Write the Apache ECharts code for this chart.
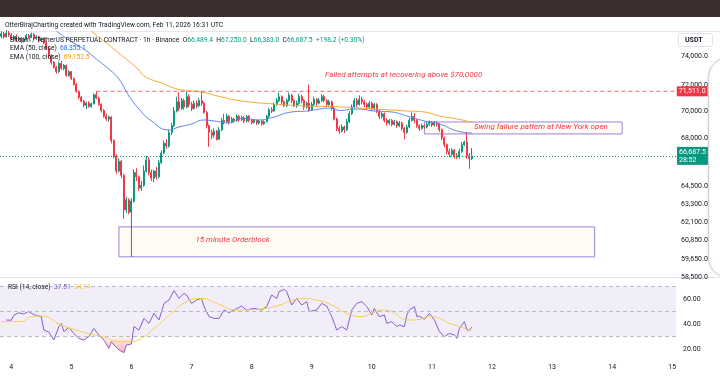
<!DOCTYPE html>
<html>
<head>
<meta charset="utf-8">
<script src="https://cdn.jsdelivr.net/npm/echarts@6/dist/echarts.min.js"></script>
<style>
html,body{margin:0;padding:0;background:#fff;}
#chart{width:720px;height:377px;}
</style>
</head>
<body>
<div id="chart"></div>
<script>
// BTCUSDT.P 1h candles, first one Feb 3 20:00 UTC. rows: [open, close, low, high]
var ohlc = [
  [75900,76100,75750,76300],[76100,75850,75700,76250],[75850,76150,75800,76400],[76150,76000,75850,76350],
  // Feb 4
  [76000,75700,75600,76150],[75700,75900,75550,76000],[75900,75600,75450,76050],[75600,75750,75500,75900],
  [75750,75500,75350,75850],[75500,75650,75400,75800],[75650,75950,75600,76100],[75950,75800,75700,76100],
  [75800,76050,75750,76200],[76050,75700,75600,76150],[75700,75850,75600,76000],[75850,75550,75400,75950],
  [75550,75700,75450,75800],[75700,75350,75250,75800],[75350,74900,74800,75450],[74900,74300,74150,75000],
  [74300,73800,73600,74450],[73800,73400,73300,73900],[73400,73050,72900,73500],[73050,73700,72950,73850],
  [73700,73300,73200,73900],[73300,73550,73150,73650],[73550,72750,72650,73600],[72750,73050,72650,73150],
  // Feb 5
  [73050,72500,72400,73100],[72500,72050,71950,72600],[72050,71500,71400,72150],[71500,71050,70900,71600],
  [71050,70750,70650,71150],[70750,70450,70300,70850],[70450,70600,70150,70700],[70600,70350,70250,70750],
  [70350,70550,70250,70650],[70550,71250,70500,71350],[71250,71000,70900,71511],[71000,70500,70400,71100],
  [70500,70050,69900,70600],[70050,69600,69500,70150],[69600,69400,69250,69800],[69400,69550,69200,69650],
  [69550,67800,67600,69600],[67800,66700,66500,67900],[66700,65600,65400,66800],[65600,66300,65500,66500],
  [66300,65300,65100,66400],[65300,62900,62300,65400],[62900,63600,62700,63800],[63600,62750,62600,63700],
  // Feb 6
  [62750,63500,62650,63700],[63500,65500,63400,65700],[65500,65200,64900,65800],[65200,64400,64200,65300],
  [64400,64600,64200,64900],[64600,65600,64500,66000],[65600,66400,65500,66700],[66400,65500,65300,66600],
  [65500,65100,64900,65700],[65100,65600,64800,65700],[65600,65200,65000,65900],[65200,66200,65100,66400],
  [66200,66900,66100,67100],[66900,67600,66800,67800],[67600,67400,67200,67900],[67400,68400,67300,68600],
  [68400,68900,68200,69100],[68900,70000,68800,70300],[70000,70700,69900,71100],[70700,70200,70000,71450],
  [70200,70800,70100,71000],[70800,70300,70100,70950],[70300,71100,70200,71520],[71100,70500,70300,71300],
  // Feb 7
  [70500,70200,70000,70700],[70200,70600,70100,70800],[70600,70400,70200,70800],[70400,70800,70300,71000],
  [70800,70600,70400,71500],[70600,69900,69800,70700],[69900,68900,68700,70000],[68900,68400,67350,69000],
  [68400,68200,67900,68600],[68200,68500,68000,68700],[68500,67900,67800,68600],[67900,68600,67850,68800],
  [68600,69300,68500,69500],[69300,69200,69000,69800],[69200,69600,69100,69800],[69600,69200,69000,69700],
  [69200,69400,69100,69550],[69400,69300,69150,69500],[69300,69600,69200,69750],[69600,69350,69200,69700],
  [69350,69500,69250,69650],[69500,69250,69100,69600],[69250,69600,69150,69700],[69600,69300,69150,69700],
  // Feb 8
  [69300,69150,69000,69400],[69150,69300,69050,69400],[69300,69100,68950,69350],[69100,69250,69000,69350],
  [69250,69050,68900,69300],[69050,69200,68950,69300],[69200,69600,69150,69700],[69600,70100,69500,70250],
  [70100,70000,69850,70300],[70000,70500,69950,70650],[70500,70800,70400,71000],[70800,71100,70700,71400],
  [71100,70700,70500,71200],[70700,70400,70300,70800],[70400,70800,70300,70950],[70800,71200,70700,71400],
  [71200,70800,70600,71300],[70800,70400,70300,70900],[70400,70600,70250,70800],[70600,71100,70500,71300],
  [71100,70800,70600,71250],[70800,70300,70100,70900],[70300,70600,70200,70700],[70600,70100,69950,72050],
  // Feb 9
  [70100,70500,70000,70700],[70500,70900,70400,71100],[70900,70600,70400,71000],[70600,70800,70500,71000],
  [70800,71100,70700,71300],[71100,70800,70650,71250],[70800,70500,70300,70900],[70500,70700,70400,70850],
  [70700,70200,70050,70800],[70200,69400,69300,70300],[69400,68700,68500,69500],[68700,68500,68300,68900],
  [68500,68800,68400,69000],[68800,68600,68350,68900],[68600,69200,68500,69400],[69200,69800,69100,70000],
  [69800,70300,69700,70500],[70300,70800,70200,71000],[70800,70500,70300,71000],[70500,70900,70400,71200],
  [70900,70700,70500,71100],[70700,70500,70300,70850],[70500,70300,70100,70650],[70300,70600,70150,70750],
  // Feb 10
  [70600,70200,70000,70700],[70200,70500,70050,70650],[70500,70000,69850,70600],[70000,69600,69400,70100],
  [69600,69800,69450,69950],[69800,69300,69150,69900],[69300,69100,68900,69450],[69100,69300,68950,69400],
  [69300,69000,68850,69400],[69000,69200,68900,69350],[69200,68900,68750,69300],[68900,69100,68800,69250],
  [69100,68700,68550,69200],[68700,68400,67900,68800],[68400,68800,68300,68950],[68800,69300,68700,69500],
  [69300,69600,69200,69900],[69600,69300,69100,69850],[69300,68900,68750,69400],[68900,68700,68500,69000],
  [68700,68900,68600,69050],[68900,68800,68650,69000],[68800,69000,68700,69150],[69000,69150,68900,69300],
  // Feb 11
  [69150,68950,68800,69250],[68950,69100,68850,69250],[69100,69000,68850,69200],[69000,68600,68450,69100],
  [68600,68000,67850,68700],[68000,67500,67300,68100],[67500,67000,66800,67600],[67000,66800,66600,67200],
  [66800,67100,66650,67250],[67100,66700,66500,67200],[66700,66600,66450,66900],[66600,67000,66500,67200],
  [67000,67500,66900,67700],[67500,67700,67400,67800],[67700,66700,66500,68400],[66700,66489.4,65760,66900],
  [66489.4,66687.5,66383,67250]
];

// indicator lines, [hour index, value]
var ema50 = [[0,79200],[22,76326],[27,75587],[33,74856],[38,74051],[43,73256],[47,72468],[51,71150],
  [55,70157],[60,69253],[67,68583],[71,68806],[76,69030],[81,69328],[85,69253],[91,69104],[96,69450],
  [103,69330],[108,69500],[116,69930],[122,70006],[132,70233],[135,70050],[142,70157],[149,70006],
  [156,69930],[162,69628],[169,69253],[175,69030],[182,68509],[188,68355]];
var ema100 = [[0,81000],[20,79300],[36,76326],[40,75669],[46,74694],[55,73176],[57,72703],[64,72150],
  [72,71612],[80,71458],[88,71073],[96,70766],[109,70537],[122,70385],[136,70309],[149,70157],
  [162,70006],[169,69930],[175,69628],[182,69404],[188,69152.5]];
var rsi = [[2,43.2],[4,43],[5,47],[7,49],[9,48],[11,50],[13,47.5],[16,45.8],[17,35.2],[19,33.6],[21,27.2],
  [23,37.8],[24,40.5],[25,33.9],[27,37.3],[29,32.5],[31,28.5],[33,27.2],[35,29.9],[37,36.5],[39,31.2],
  [41,27.2],[43,20.5],[44,25.9],[45,23.2],[47,19.2],[49,17.1],[50,23.2],[52,24],[53,37.9],[55,35.2],
  [57,44.5],[59,40.5],[61,48.5],[63,43.2],[65,56.5],[67,59.2],[69,66.7],[71,60.5],[73,64.5],[74,63.2],
  [76,56.5],[78,59.2],[80,60.5],[81,53.9],[83,45.9],[85,44.5],[87,44.5],[89,51.2],[91,49.1],[93,51.2],
  [96,54.4],[98,51.2],[101,52.5],[104,51.2],[106,53.9],[108,63.2],[110,60.5],[111,65.9],[113,67.7],
  [114,65.9],[116,55.2],[118,60.5],[120,55.2],[122,57.9],[123,49.9],[126,51.2],[128,56.5],[130,54.4],
  [132,45.9],[134,35.2],[136,37.9],[138,35.2],[140,51.2],[142,56.5],[144,57.9],[146,53.9],[148,47.2],
  [149,52.5],[151,45.9],[153,47.2],[154,40.5],[156,41.9],[158,37.9],[159,39.2],[161,37.9],[162,47.2],
  [163,51.2],[165,53.9],[166,45.9],[167,46.4],[169,43.7],[171,48.5],[173,43.2],[175,33.9],[177,29.9],
  [179,32.5],[181,31.2],[182,28.5],[183,36.5],[185,41.9],[186,35.2],[187,35.2],[188,37.51]];
var rsiMa = [[0,41.9],[8,42],[12,45.9],[16,46.4],[24,39.2],[32,33.9],[40,29.9],[48,25.9],[52,25.9],
  [56,28.5],[62,37.9],[68,48.5],[74,57.9],[80,60.5],[86,56.5],[94,51.2],[102,51.7],[110,54.4],
  [116,58.7],[120,60.5],[126,59.2],[132,55.2],[138,48.5],[144,45.9],[148,48.5],[152,51.2],[156,49.9],
  [160,44.5],[163,43.2],[167,43.7],[171,45.9],[175,44.5],[179,40.5],[183,37.9],[188,34.74]];

var priceTicks = [74000, 72000, 70000, 68000, 64500, 63300, 62100, 60850, 59650, 58500];
var rsiTicks = [20, 40, 60];
var failedHigh = 71511;
var lastPrice = 66687.5;
// drawn annotations: [hour index, price]
var failedLine = [[38, failedHigh], [269, failedHigh]];
var obLine = [[52, 63460], [52, 59790]];

// hourly slots out to Feb 15
var hours = [];
var t0 = Date.UTC(2026, 1, 3, 20);
for (var i = 0; i < 270; i++) {
  var d = new Date(t0 + i * 3600000);
  hours.push(d.getUTCDate() + ' ' + d.getUTCHours());
}

function fmtPrice(v) {
  return v.toLocaleString('en-US', {minimumFractionDigits: 1, maximumFractionDigits: 1});
}

var FONT = 'Roboto, "Noto Sans", sans-serif';
var UP = '#089981', DOWN = '#f23645';
var TXT = 6.7;

var chart = echarts.init(document.getElementById('chart'));

var rsiFloor = rsi.map(function (p) { return [p[0], Math.min(p[1], 30)]; });
var rsiDip = rsi.map(function (p) { return [p[0], 30 - Math.min(p[1], 30)]; });

var option = {
  animation: false,
  textStyle: {fontFamily: FONT},
  grid: [
    {left: -1, top: 32, width: 677, height: 245},
    {left: -1, top: 277, width: 677, height: 81}
  ],
  xAxis: [
    {type: 'category', gridIndex: 0, data: hours, axisLine: {show: false}, axisTick: {show: false},
      axisLabel: {show: false}, splitLine: {show: false}},
    {type: 'category', gridIndex: 1, data: hours, axisLine: {show: false}, axisTick: {show: false},
      splitLine: {show: false},
      axisLabel: {
        interval: function (idx, val) { return val.split(' ')[1] === '0'; },
        formatter: function (val) { return val.split(' ')[0]; },
        color: '#131722', fontSize: 7, margin: 6
      }}
  ],
  yAxis: [
    {type: 'log', logBase: 10, gridIndex: 0, position: 'right', min: 58500, max: 76250,
      axisLine: {show: false}, axisTick: {show: false}, splitLine: {show: false},
      axisLabel: {customValues: priceTicks, formatter: fmtPrice, color: '#131722', fontSize: 7, margin: 5,
        verticalAlignMinLabel: 'bottom'}},
    {type: 'value', gridIndex: 1, position: 'right', min: 12.8, max: 77.6,
      axisLine: {show: false}, axisTick: {show: false}, splitLine: {show: false},
      axisLabel: {customValues: rsiTicks, formatter: function (v) { return v.toFixed(2); },
        color: '#131722', fontSize: 7, margin: 7}}
  ],
  series: [
    {
      type: 'candlestick', xAxisIndex: 0, yAxisIndex: 0, data: ohlc, barWidth: '60%', silent: true,
      itemStyle: {color: UP, color0: DOWN, borderColor: UP, borderColor0: DOWN, borderWidth: 1},
      markLine: {
        silent: true, symbol: ['none', 'none'],
        data: [
          {yAxis: lastPrice, lineStyle: {color: UP, type: [1, 2], width: 1},
            label: {show: true, position: 'end', distance: 1, formatter: fmtPrice(lastPrice) + '\n28:52',
              backgroundColor: UP, color: '#fff', fontSize: 7, lineHeight: 8, padding: [1, 2, 1, 2]}}
        ]
      },
      markArea: {
        silent: true,
        data: [
          [{coord: [47, 61760], itemStyle: {color: '#fefbf4', borderColor: '#9c83d8', borderWidth: 1},
            label: {show: true, formatter: '15 minute Orderblock', position: [77, 14], align: 'left',
              verticalAlign: 'middle', color: DOWN, fontStyle: 'italic', fontSize: 8}},
           {coord: [237, 59790]}],
          [{coord: [169, 69180], itemStyle: {color: 'rgba(255,250,240,0.6)', borderColor: '#9c83d8', borderWidth: 1},
            label: {show: true, formatter: 'Swing failure pattern at New York open', position: [50, 6],
              align: 'left', verticalAlign: 'middle', color: DOWN, fontStyle: 'italic', fontSize: 8}},
           {coord: [248, 68290]}]
        ]
      }
    },
    {type: 'line', name: 'EMA 50', xAxisIndex: 0, yAxisIndex: 0, data: ema50, smooth: true, symbol: 'none',
      silent: true, lineStyle: {color: '#5d82f2', width: 1}},
    {type: 'line', name: 'EMA 100', xAxisIndex: 0, yAxisIndex: 0, data: ema100, smooth: true, symbol: 'none',
      silent: true, lineStyle: {color: '#f7a531', width: 1}},
    {type: 'line', name: 'failed high', xAxisIndex: 0, yAxisIndex: 0, data: failedLine, symbol: 'none',
      silent: true, z: 3, lineStyle: {color: DOWN, type: [4, 3], width: 1, opacity: 0.75},
      endLabel: {show: true, distance: 2, formatter: fmtPrice(failedHigh), backgroundColor: DOWN,
        color: '#fff', fontSize: 7, padding: [2, 2, 1, 2]}},
    {type: 'line', name: 'orderblock tap', xAxisIndex: 0, yAxisIndex: 0, data: obLine, symbol: 'none',
      silent: true, z: 3, lineStyle: {color: UP, width: 1}},
    {type: 'line', xAxisIndex: 1, yAxisIndex: 1, data: rsiFloor, stack: 'os', symbol: 'none', silent: true,
      lineStyle: {opacity: 0}},
    {type: 'line', xAxisIndex: 1, yAxisIndex: 1, data: rsiDip, stack: 'os', symbol: 'none', silent: true,
      lineStyle: {opacity: 0},
      areaStyle: {color: new echarts.graphic.LinearGradient(0, 0, 0, 1, [
        {offset: 0, color: 'rgba(242,54,69,0.08)'}, {offset: 1, color: 'rgba(242,54,69,0.55)'}])}},
    {
      type: 'line', name: 'RSI', xAxisIndex: 1, yAxisIndex: 1, data: rsi, symbol: 'none', silent: true,
      lineStyle: {color: '#8360c9', width: 1},
      markArea: {silent: true, itemStyle: {color: 'rgba(126,87,194,0.1)'},
        data: [[{yAxis: 30}, {yAxis: 70}]]},
      markLine: {silent: true, symbol: ['none', 'none'], label: {show: false},
        lineStyle: {color: '#b9bcc6', type: [4, 3], width: 1},
        data: [{yAxis: 70}, {yAxis: 50}, {yAxis: 30}]}
    },
    {type: 'line', name: 'RSI MA', xAxisIndex: 1, yAxisIndex: 1, data: rsiMa, smooth: true, symbol: 'none',
      silent: true, lineStyle: {color: '#f5cf4a', width: 1}}
  ],
  graphic: [
    {type: 'rect', shape: {x: 0, y: 0, width: 720, height: 17}, style: {fill: '#3e2f2f'}, silent: true},
    {type: 'text', x: 5, y: 25, style: {text: 'OtterBirajCharting created with TradingView.com, Feb 11, 2026 16:31 UTC',
      fill: '#131722', font: TXT + 'px ' + FONT, textVerticalAlign: 'middle'}},
    {type: 'line', shape: {x1: 0, y1: 31.5, x2: 720, y2: 31.5}, style: {stroke: '#e6e8ee', lineWidth: 1}},
    {type: 'line', shape: {x1: 0, y1: 277.5, x2: 720, y2: 277.5}, style: {stroke: '#e0e3eb', lineWidth: 1}},
    {type: 'text', x: 10, y: 40, z: 10, style: {
      text: '{t|Bitcoin / TetherUS PERPETUAL CONTRACT · 1h · Binance} {t|O}{g|66,489.4} {t|H}{g|67,250.0} {t|L}{g|66,383.0} {t|C}{g|66,687.5} {g|+198.2 (+0.30%)}',
      textVerticalAlign: 'middle',
      rich: {t: {fill: '#131722', fontSize: TXT, fontFamily: FONT}, g: {fill: UP, fontSize: TXT, fontFamily: FONT}}}},
    {type: 'text', x: 10, y: 48.5, z: 10, style: {
      text: '{t|EMA (50, close)} {b|68,355.1}', textVerticalAlign: 'middle',
      rich: {t: {fill: '#131722', fontSize: TXT, fontFamily: FONT}, b: {fill: '#2962ff', fontSize: TXT, fontFamily: FONT}}}},
    {type: 'text', x: 10, y: 57.5, z: 10, style: {
      text: '{t|EMA (100, close)} {o|69,152.5}', textVerticalAlign: 'middle',
      rich: {t: {fill: '#131722', fontSize: TXT, fontFamily: FONT}, o: {fill: '#ff9800', fontSize: TXT, fontFamily: FONT}}}},
    {type: 'text', x: 8, y: 287, z: 10, style: {
      text: '{t|RSI (14, close)} {p|37.51} {y|34.74}', textVerticalAlign: 'middle',
      rich: {t: {fill: '#131722', fontSize: TXT, fontFamily: FONT}, p: {fill: '#7e57c2', fontSize: TXT, fontFamily: FONT},
        y: {fill: '#f2c94c', fontSize: TXT, fontFamily: FONT}}}},
    {type: 'text', x: 325, y: 75, z: 10, style: {text: 'Failed attempts at recovering above $70,0000',
      fill: DOWN, font: 'italic 8px ' + FONT, textVerticalAlign: 'middle'}},
    {type: 'rect', z: 10, shape: {x: 678.5, y: 33.5, width: 34, height: 13, r: 2},
      style: {fill: '#fff', stroke: '#e0e3eb', lineWidth: 1}},
    {type: 'text', z: 11, x: 685, y: 40, style: {text: 'USDT', fill: '#131722', font: 'bold 7px ' + FONT,
      textVerticalAlign: 'middle'}},
    {type: 'rect', z: 20, shape: {x: 708.5, y: 57.5, width: 40, height: 220, r: 20},
      style: {fill: '#fff', stroke: '#cfcfd4', lineWidth: 1, shadowBlur: 3, shadowColor: 'rgba(0,0,0,0.12)'}}
  ]
};

chart.setOption(option);
</script>
</body>
</html>
